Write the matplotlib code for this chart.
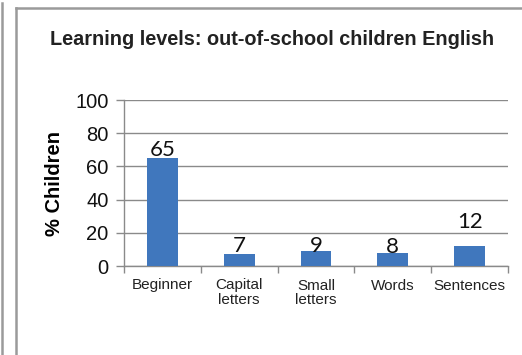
import matplotlib
matplotlib.use("Agg")
import matplotlib.pyplot as plt
from matplotlib.lines import Line2D
import numpy as np

categories = ["Beginner", "Capital\nletters", "Small\nletters", "Words", "Sentences"]
values = [65, 7, 9, 8, 12]
yticks = [0, 20, 40, 60, 80, 100]

# label gap above bar tops (pixels), as drawn in the reference
label_gap_px = [2, 2, -1, 0, 18]

W, H = 522, 355
fig = plt.figure(figsize=(W / 100, H / 100), dpi=100)
fig.patch.set_facecolor("white")

ax = fig.add_axes([124 / W, (H - 266) / H, (508 - 124) / W, (266 - 100) / H])
x = np.arange(len(categories))
bars = ax.bar(x, values, width=0.4, color="#4077BD", zorder=3)

ax.set_xlim(-0.5, len(categories) - 0.5)
ax.set_ylim(0, 100)
ax.set_yticks(yticks)
ax.set_yticklabels([str(t) for t in yticks], fontsize=14.5, family="Liberation Sans", color="#111111")
ax.yaxis.grid(True, color="#8a8a8a", linewidth=1.0, zorder=0)
ax.tick_params(axis="y", length=6, width=1.0, color="#8a8a8a", pad=5)

ax.set_xticks(x)
ax.set_xticklabels(categories, fontsize=11, family="Liberation Sans", color="#222222", linespacing=1.0)
ax.set_xticks(np.arange(-0.5, len(categories)), minor=True)
ax.tick_params(axis="x", which="major", length=0, pad=9)
ax.tick_params(axis="x", which="minor", length=5, width=1.0, color="#8a8a8a")

for s in ["top", "right"]:
    ax.spines[s].set_visible(False)
for s in ["left", "bottom"]:
    ax.spines[s].set_color("#8a8a8a")
    ax.spines[s].set_linewidth(1.0)

for xi, v, g in zip(x, values, label_gap_px):
    ax.annotate(str(v), (xi, v), xytext=(0, g * 0.72), textcoords="offset points",
                ha="center", va="baseline", fontsize=16, family="Lato", color="#111111")

ax.set_ylabel("% Children", fontsize=14.5, fontweight="bold", family="Liberation Sans", labelpad=8)

fig.text(272.5 / W, 1 - 39.5 / H, "Learning levels: out-of-school children English",
         ha="center", va="center", fontsize=14.3, fontweight="bold", family="Liberation Sans", color="#222222")

# frame lines
fig.add_artist(Line2D([1.5 / W, 1.5 / W], [0, 1 - 3 / H], color="#9a9a9a", linewidth=1.8, transform=fig.transFigure))
fig.add_artist(Line2D([15.5 / W, 15.5 / W], [0, 1 - 8 / H], color="#9a9a9a", linewidth=1.8, transform=fig.transFigure))
fig.add_artist(Line2D([15.5 / W, 1], [1 - 8 / H, 1 - 8 / H], color="#9a9a9a", linewidth=1.8, transform=fig.transFigure))

fig.savefig("out.png", dpi=100)
